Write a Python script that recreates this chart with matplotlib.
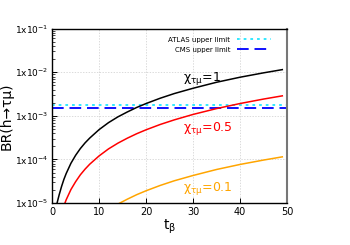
import numpy as np
import matplotlib
matplotlib.use('Agg')
import matplotlib.pyplot as plt
from matplotlib.ticker import FixedLocator, LogLocator, NullFormatter

# tan(beta) values and BR
tb = [0, 0.5, 1, 1.5, 2, 2.5, 3, 4, 5, 6, 7, 8, 10, 12, 14, 16, 18, 20,
      23, 26, 30, 35, 40, 45, 49]
br_chi1 = [4.8e-6, 6.0e-6, 9.6e-6, 1.56e-5, 2.4e-5, 3.5e-5, 4.8e-5, 8.2e-5,
           1.25e-4, 1.78e-4, 2.4e-4, 3.1e-4, 4.85e-4, 7.0e-4, 9.5e-4, 1.23e-3,
           1.56e-3, 1.92e-3, 2.54e-3, 3.25e-3, 4.3e-3, 5.9e-3, 7.7e-3, 9.7e-3,
           1.15e-2]
br_chi05 = [1.2e-6, 1.5e-6, 2.4e-6, 3.9e-6, 6.0e-6, 8.7e-6, 1.2e-5, 2.05e-5,
            3.1e-5, 4.45e-5, 6.0e-5, 7.8e-5, 1.21e-4, 1.75e-4, 2.37e-4, 3.08e-4,
            3.9e-4, 4.8e-4, 6.35e-4, 8.1e-4, 1.08e-3, 1.47e-3, 1.92e-3, 2.43e-3,
            2.88e-3]
br_chi01 = [4.8e-8, 6.0e-8, 9.6e-8, 1.56e-7, 2.4e-7, 3.5e-7, 4.8e-7, 8.2e-7,
            1.25e-6, 1.78e-6, 2.4e-6, 3.1e-6, 4.85e-6, 7.0e-6, 9.5e-6, 1.23e-5,
            1.56e-5, 1.92e-5, 2.54e-5, 3.25e-5, 4.3e-5, 5.9e-5, 7.7e-5, 9.7e-5,
            1.15e-4]

atlas_limit = 1.8e-3
cms_limit = 1.5e-3

xticks = [0, 10, 20, 30, 40, 50]
yticks = [1e-5, 1e-4, 1e-3, 1e-2, 1e-1]
ytick_labels = [r'1x10$^{-5}$', r'1x10$^{-4}$', r'1x10$^{-3}$',
                r'1x10$^{-2}$', r'1x10$^{-1}$']

fig = plt.figure(figsize=(3.5, 2.45), dpi=100)
ax = fig.add_axes([0.149, 0.171, 0.671, 0.712])

# limit lines
ax.axhline(atlas_limit, color='#22e6ff', ls=(0, (1.5, 2.2)), lw=1.3,
           label='ATLAS upper limit')
ax.axhline(cms_limit, color='#1010ff', ls=(0, (6, 3)), lw=1.4,
           label='CMS upper limit')

ax.plot(tb, br_chi1, color='black', lw=1.1)
ax.plot(tb, br_chi05, color='#ff0000', lw=1.1)
ax.plot(tb, br_chi01, color='#ffa500', lw=1.1)

ax.text(27.9, 6.3e-3, r'$\mathrm{\chi_{\tau\mu}}$=1', color='black', fontsize=9)
ax.text(27.9, 4.6e-4, r'$\mathrm{\chi_{\tau\mu}}$=0.5', color='#ff0000', fontsize=9)
ax.text(27.9, 1.95e-5, r'$\mathrm{\chi_{\tau\mu}}$=0.1', color='#ffa500', fontsize=9)

ax.set_yscale('log')
ax.set_xlim(0, 50)
ax.set_ylim(1e-5, 1e-1)
ax.xaxis.set_major_locator(FixedLocator(xticks))
ax.yaxis.set_major_locator(FixedLocator(yticks))
ax.set_yticklabels(ytick_labels)
ax.yaxis.set_minor_locator(LogLocator(base=10, subs=np.arange(2, 10)))
ax.yaxis.set_minor_formatter(NullFormatter())
ax.tick_params(which='both', direction='in', labelsize=6.5, right=False, top=False)
ax.tick_params(axis='x', labelsize=7)
ax.tick_params(which='major', length=3.5, width=0.7, pad=2.5)
ax.tick_params(which='minor', length=2, width=0.5)

ax.grid(True, which='major', color='#cccccc', ls=(0, (2, 2)), lw=0.5)
for s in ['left', 'bottom', 'top']:
    ax.spines[s].set_linewidth(1.0)
ax.spines['right'].set_color('#777777')
ax.spines['right'].set_linewidth(1.5)

ax.set_xlabel(r'$\mathrm{t_\beta}$', fontsize=10, labelpad=1)
ax.set_ylabel('BR(h\u2192τμ)', fontsize=10)
ax.yaxis.set_label_coords(-0.165, 0.5)

ax.legend(loc='upper right', bbox_to_anchor=(0.96, 0.99), frameon=False,
          fontsize=5, markerfirst=False, handlelength=5, handletextpad=0.9,
          labelspacing=0.6)

fig.savefig('out.png', dpi=100)
